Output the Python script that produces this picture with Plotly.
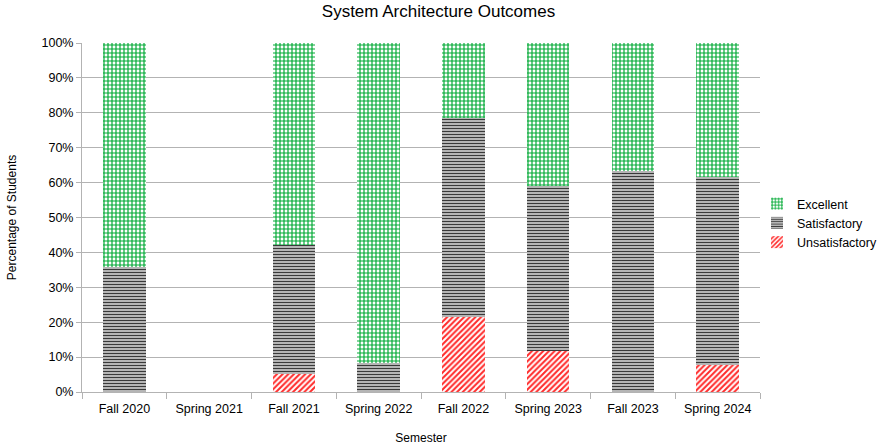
import plotly.graph_objects as go

semesters = ["Fall 2020", "Spring 2021", "Fall 2021", "Spring 2022",
             "Fall 2022", "Spring 2023", "Fall 2023", "Spring 2024"]
unsatisfactory = [0.0, None, 0.053, 0.0, 0.214, 0.118, 0.0, 0.077]
satisfactory = [0.357, None, 0.368, 0.083, 0.571, 0.471, 0.632, 0.538]
excellent = [0.643, None, 0.579, 0.917, 0.214, 0.412, 0.368, 0.385]

FONT = "Liberation Sans, Arial, sans-serif"

fig = go.Figure()
fig.add_trace(go.Bar(
    name="Unsatisfactory", x=semesters, y=unsatisfactory,
    marker=dict(color="#ff3333", line=dict(width=0),
                pattern=dict(shape="/", fgcolor="#ff2a2a", bgcolor="#ffffff",
                             fgopacity=1, size=4, solidity=0.5)),
))
fig.add_trace(go.Bar(
    name="Satisfactory", x=semesters, y=satisfactory,
    marker=dict(color="#c0c0c0", line=dict(width=0),
                pattern=dict(shape="-", fgcolor="#3a3a3a", bgcolor="#c8c8c8",
                             fgopacity=1, size=3, solidity=0.42)),
))
fig.add_trace(go.Bar(
    name="Excellent", x=semesters, y=excellent,
    marker=dict(color="#00a933", line=dict(width=0),
                pattern=dict(shape="+", fgcolor="#00a933", bgcolor="#ffffff",
                             fgopacity=1, size=4, solidity=0.5)),
))

fig.update_layout(
    barmode="stack",
    bargap=0.5,
    width=877, height=445,
    margin=dict(l=82, r=117, t=43, b=53, autoexpand=False),
    paper_bgcolor="white", plot_bgcolor="white",
    font=dict(family=FONT, size=12, color="#000000"),
    title=dict(text="System Architecture Outcomes", x=0.5, xanchor="center",
               y=0.975, yanchor="middle", font=dict(size=17, family=FONT)),
    legend=dict(xref="container", x=757 / 877, xanchor="left",
                yref="container", y=(445 - 223) / 445, yanchor="middle",
                font=dict(size=12.5), bgcolor="rgba(0,0,0,0)", itemwidth=30,
                tracegroupgap=0),
    showlegend=True,
)
fig.update_xaxes(
    type="category", tickson="boundaries", ticks="outside", ticklen=6,
    tickcolor="#b3b3b3", showline=True, linecolor="#b3b3b3",
    tickfont=dict(size=12.5), ticklabelstandoff=5,
    title=dict(text="Semester", font=dict(size=12), standoff=20),
)
fig.update_yaxes(
    range=[0, 1], dtick=0.1, tickformat=".0%", ticks="outside", ticklen=5,
    tickcolor="#b3b3b3", showline=True, linecolor="#b3b3b3",
    showgrid=True, gridcolor="#b3b3b3", gridwidth=1, zeroline=False,
    tickfont=dict(size=12.5),
    title=dict(text="Percentage of Students", font=dict(size=12), standoff=22),
)

fig.write_html("out.html")
